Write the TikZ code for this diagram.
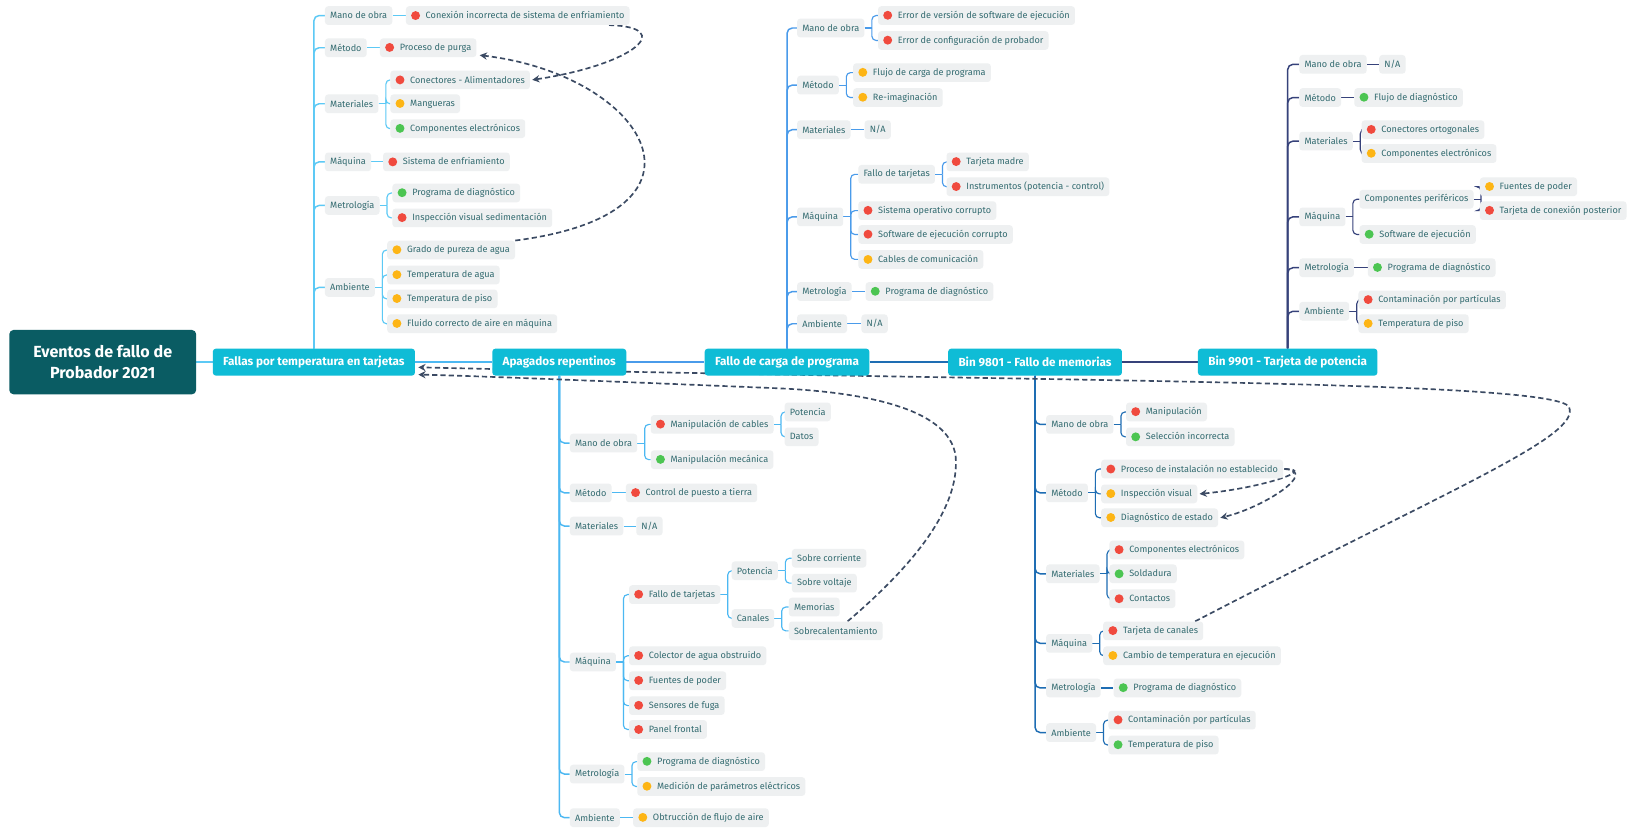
\documentclass[tikz,border=0pt]{standalone}
\usepackage{fontspec}
\setmainfont{Fira Sans}
\usetikzlibrary{calc,arrows.meta}

\definecolor{rootfill}{HTML}{0A5C63}
\definecolor{mainfill}{HTML}{0FBCD6}
\definecolor{boxfill}{HTML}{EEF0F1}
\definecolor{txt}{HTML}{336B70}
\definecolor{cA}{HTML}{5CC9F5}
\definecolor{cB}{HTML}{4CB8F2}
\definecolor{cC}{HTML}{4A9BEA}
\definecolor{cD}{HTML}{1E6DB3}
\definecolor{cE}{HTML}{36427A}
\definecolor{dashc}{HTML}{3B4A63}
\definecolor{dred}{HTML}{F04A3E}
\definecolor{dorange}{HTML}{FDB515}
\definecolor{dgreen}{HTML}{4CC552}

\pgfdeclarelayer{bg}
\pgfdeclarelayer{paper}
\pgfsetlayers{paper,bg,main}

% coloured status dot in front of a label
\newcommand\dt[1]{\tikz[baseline=-3pt]\fill[#1](0pt,0pt)circle(4.3pt);\hspace{5.5pt}}
% single child: straight link
\newcommand\lnk[3]{\draw[#1] (#2.east) -- (#3.west);}
% several children: short stub, then a rounded elbow per child
\newcommand\frk[3]{\draw[#1] (#2.east) -- ++(7pt,0pt);
  \draw[#1,rounded corners=4pt] ([xshift=7pt]#2.east) |- (#3.west);}
% trunk from a main topic to its categories
\newcommand\trk[3]{\draw[#1,line width=1.4pt,rounded corners=5pt] (#2) |- (#3.west);}

\begin{document}
\begin{tikzpicture}[x=1pt,y=-1pt,
  lbl/.style={fill=boxfill,rounded corners=3pt,inner xsep=5pt,inner ysep=0pt,
    minimum height=18pt,text=txt,font=\fontsize{8.8}{10}\selectfont,anchor=west},
  mainb/.style={fill=mainfill,rounded corners=3pt,text=white,inner xsep=10pt,
    minimum height=26pt,font=\fontsize{11.3}{13}\selectfont\bfseries},
  rootb/.style={fill=rootfill,rounded corners=4pt,text=white,align=center,
    minimum width=180pt,minimum height=62pt,font=\fontsize{15.5}{20}\selectfont\bfseries},
  lA/.style={draw=cA,line width=1.1pt},
  lB/.style={draw=cB,line width=1.1pt},
  lC/.style={draw=cC,line width=1.1pt},
  lD/.style={draw=cD,line width=1.1pt},
  lE/.style={draw=cE,line width=1.1pt},
  dep/.style={draw=dashc,line width=1.6pt,dash pattern=on 5pt off 3pt,
    -{Stealth[length=7pt,width=7pt]}}]

\begin{pgfonlayer}{paper}
\fill[white] (0,0) rectangle (1568,798);
\end{pgfonlayer}
\useasboundingbox (0,0) rectangle (1568,798);

% ---------- root and main topics ----------
\node[rootb] (root) at (99,349) {Eventos de fallo de\\Probador 2021};
\node[mainb] (m1) at (302.5,349) {Fallas por temperatura en tarjetas};
\node[mainb] (m2) at (539,349) {Apagados repentinos};
\node[mainb] (m3) at (758.5,349) {Fallo de carga de programa};
\node[mainb] (m4) at (997.5,349) {Bin 9801 - Fallo de memorias};
\node[mainb] (m5) at (1241,349) {Bin 9901 - Tarjeta de potencia};

% ---------- Fallas por temperatura en tarjetas ----------
\node[lbl] (aMO) at (313,15) {Mano de obra};
\node[lbl] (aME) at (313,46) {Método};
\node[lbl] (aMA) at (313,100) {Materiales};
\node[lbl] (aMQ) at (313,156) {Máquina};
\node[lbl] (aMT) at (313,198) {Metrología};
\node[lbl] (aAM) at (313,277) {Ambiente};
\node[lbl] (aMO1) at (391,15) {\dt{dred}Conexión incorrecta de sistema de enfriamiento};
\node[lbl] (aME1) at (366,46) {\dt{dred}Proceso de purga};
\node[lbl] (aMA1) at (376,77) {\dt{dred}Conectores - Alimentadores};
\node[lbl] (aMA2) at (376,100) {\dt{dorange}Mangueras};
\node[lbl] (aMA3) at (376,124) {\dt{dgreen}Componentes electrónicos};
\node[lbl] (aMQ1) at (369,156) {\dt{dred}Sistema de enfriamiento};
\node[lbl] (aMT1) at (378,186) {\dt{dgreen}Programa de diagnóstico};
\node[lbl] (aMT2) at (378,210) {\dt{dred}Inspección visual sedimentación};
\node[lbl] (aAM1) at (373,241) {\dt{dorange}Grado de pureza de agua};
\node[lbl] (aAM2) at (373,265) {\dt{dorange}Temperatura de agua};
\node[lbl] (aAM3) at (373,288) {\dt{dorange}Temperatura de piso};
\node[lbl] (aAM4) at (373,312) {\dt{dorange}Fluido correcto de aire en máquina};

% ---------- Apagados repentinos ----------
\node[lbl] (bMO) at (549,427) {Mano de obra};
\node[lbl] (bME) at (549,475) {Método};
\node[lbl] (bMA) at (549,507) {Materiales};
\node[lbl] (bMQ) at (549,638) {Máquina};
\node[lbl] (bMT) at (549,746) {Metrología};
\node[lbl] (bAM) at (549,788) {Ambiente};
\node[lbl] (bMO1) at (627,409) {\dt{dred}Manipulación de cables};
\node[lbl] (bMO2) at (627,443) {\dt{dgreen}Manipulación mecánica};
\node[lbl] (bMO11) at (756,397) {Potencia};
\node[lbl] (bMO12) at (756,421) {Datos};
\node[lbl] (bME1) at (603,475) {\dt{dred}Control de puesto a tierra};
\node[lbl] (bMA1) at (613,507) {N/A};
\node[lbl] (bMQ1) at (606,573) {\dt{dred}Fallo de tarjetas};
\node[lbl] (bMQ2) at (606,632) {\dt{dred}Colector de agua obstruido};
\node[lbl] (bMQ3) at (606,656) {\dt{dred}Fuentes de poder};
\node[lbl] (bMQ4) at (606,680) {\dt{dred}Sensores de fuga};
\node[lbl] (bMQ5) at (606,703) {\dt{dred}Panel frontal};
\node[lbl] (bP) at (705,550) {Potencia};
\node[lbl] (bC) at (705,596) {Canales};
\node[lbl] (bP1) at (763,538) {Sobre corriente};
\node[lbl] (bP2) at (763,562) {Sobre voltaje};
\node[lbl] (bC1) at (760,585) {Memorias};
\node[lbl] (bC2) at (760,608) {Sobrecalentamiento};
\node[lbl] (bMT1) at (614,734) {\dt{dgreen}Programa de diagnóstico};
\node[lbl] (bMT2) at (614,758) {\dt{dorange}Medición de parámetros eléctricos};
\node[lbl] (bAM1) at (610,788) {\dt{dorange}Obtrucción de flujo de aire};

% ---------- Fallo de carga de programa ----------
\node[lbl] (cMO) at (768,27) {Mano de obra};
\node[lbl] (cME) at (768,82) {Método};
\node[lbl] (cMA) at (768,125) {Materiales};
\node[lbl] (cMQ) at (768,209) {Máquina};
\node[lbl] (cMT) at (768,281) {Metrología};
\node[lbl] (cAM) at (768,312) {Ambiente};
\node[lbl] (cMO1) at (846,15) {\dt{dred}Error de versión de software de ejecución};
\node[lbl] (cMO2) at (846,39) {\dt{dred}Error de configuración de probador};
\node[lbl] (cME1) at (822,70) {\dt{dorange}Flujo de carga de programa};
\node[lbl] (cME2) at (822,94) {\dt{dorange}Re-imaginación};
\node[lbl] (cMA1) at (833,125) {N/A};
\node[lbl] (cMQ1) at (827,168) {Fallo de tarjetas};
\node[lbl] (cMQ11) at (912,156) {\dt{dred}Tarjeta madre};
\node[lbl] (cMQ12) at (912,180) {\dt{dred}Instrumentos (potencia - control)};
\node[lbl] (cMQ2) at (827,203) {\dt{dred}Sistema operativo corrupto};
\node[lbl] (cMQ3) at (827,226) {\dt{dred}Software de ejecución corrupto};
\node[lbl] (cMQ4) at (827,250) {\dt{dorange}Cables de comunicación};
\node[lbl] (cMT1) at (834,281) {\dt{dgreen}Programa de diagnóstico};
\node[lbl] (cAM1) at (830,312) {N/A};

% ---------- Bin 9801 - Fallo de memorias ----------
\node[lbl] (dMO) at (1008,409) {Mano de obra};
\node[lbl] (dME) at (1008,475) {Método};
\node[lbl] (dMA) at (1008,553) {Materiales};
\node[lbl] (dMQ) at (1008,620) {Máquina};
\node[lbl] (dMT) at (1008,663) {Metrología};
\node[lbl] (dAM) at (1008,706) {Ambiente};
\node[lbl] (dMO1) at (1085,397) {\dt{dred}Manipulación};
\node[lbl] (dMO2) at (1085,421) {\dt{dgreen}Selección incorrecta};
\node[lbl] (dME1) at (1061,452) {\dt{dred}Proceso de instalación no establecido};
\node[lbl] (dME2) at (1061,476) {\dt{dorange}Inspección visual};
\node[lbl] (dME3) at (1061,499) {\dt{dorange}Diagnóstico de estado};
\node[lbl] (dMA1) at (1069,530) {\dt{dred}Componentes electrónicos};
\node[lbl] (dMA2) at (1069,553) {\dt{dgreen}Soldadura};
\node[lbl] (dMA3) at (1069,577) {\dt{dred}Contactos};
\node[lbl] (dMQ1) at (1063,608) {\dt{dred}Tarjeta de canales};
\node[lbl] (dMQ2) at (1063,632) {\dt{dorange}Cambio de temperatura en ejecución};
\node[lbl] (dMT1) at (1073,663) {\dt{dgreen}Programa de diagnóstico};
\node[lbl] (dAM1) at (1068,694) {\dt{dred}Contaminación por partículas};
\node[lbl] (dAM2) at (1068,718) {\dt{dgreen}Temperatura de piso};

% ---------- Bin 9901 - Tarjeta de potencia ----------
\node[lbl] (eMO) at (1252,62) {Mano de obra};
\node[lbl] (eME) at (1252,94) {Método};
\node[lbl] (eMA) at (1252,136) {Materiales};
\node[lbl] (eMQ) at (1252,209) {Máquina};
\node[lbl] (eMT) at (1252,258) {Metrología};
\node[lbl] (eAM) at (1252,300) {Ambiente};
\node[lbl] (eMO1) at (1329,62) {N/A};
\node[lbl] (eME1) at (1305,94) {\dt{dgreen}Flujo de diagnóstico};
\node[lbl] (eMA1) at (1312,125) {\dt{dred}Conectores ortogonales};
\node[lbl] (eMA2) at (1312,148) {\dt{dorange}Componentes electrónicos};
\node[lbl] (eMQ1) at (1310,192) {Componentes periféricos};
\node[lbl] (eMQ2) at (1310,226) {\dt{dgreen}Software de ejecución};
\node[lbl] (eMQ11) at (1426,180) {\dt{dorange}Fuentes de poder};
\node[lbl] (eMQ12) at (1426,203) {\dt{dred}Tarjeta de conexión posterior};
\node[lbl] (eMT1) at (1318,258) {\dt{dgreen}Programa de diagnóstico};
\node[lbl] (eAM1) at (1309,289) {\dt{dred}Contaminación por partículas};
\node[lbl] (eAM2) at (1309,312) {\dt{dorange}Temperatura de piso};

\begin{pgfonlayer}{bg}
% main line
\draw[cA,line width=1.4pt] (root.east) -- (m1.west);
\draw[cB,line width=1.4pt] (m1.east) -- (m2.west);
\draw[cC,line width=1.4pt] (m2.east) -- (m3.west);
\draw[cD,line width=1.4pt] (m3.east) -- (m4.west);
\draw[cE,line width=1.4pt] (m4.east) -- (m5.west);

% trunks
\foreach \n in {aMO,aME,aMA,aMQ,aMT,aAM}{\trk{cA}{m1.north}{\n}}
\foreach \n in {bMO,bME,bMA,bMQ,bMT,bAM}{\trk{cB}{m2.south}{\n}}
\foreach \n in {cMO,cME,cMA,cMQ,cMT,cAM}{\trk{cC}{m3.north}{\n}}
\foreach \n in {dMO,dME,dMA,dMQ,dMT,dAM}{\trk{cD}{m4.south}{\n}}
\foreach \n in {eMO,eME,eMA,eMQ,eMT,eAM}{\trk{cE}{m5.north}{\n}}

% branch A
\lnk{lA}{aMO}{aMO1}
\lnk{lA}{aME}{aME1}
\frk{lA}{aMA}{aMA1}\frk{lA}{aMA}{aMA2}\frk{lA}{aMA}{aMA3}
\lnk{lA}{aMQ}{aMQ1}
\frk{lA}{aMT}{aMT1}\frk{lA}{aMT}{aMT2}
\frk{lA}{aAM}{aAM1}\frk{lA}{aAM}{aAM2}\frk{lA}{aAM}{aAM3}\frk{lA}{aAM}{aAM4}

% branch B
\frk{lB}{bMO}{bMO1}\frk{lB}{bMO}{bMO2}
\frk{lB}{bMO1}{bMO11}\frk{lB}{bMO1}{bMO12}
\lnk{lB}{bME}{bME1}
\lnk{lB}{bMA}{bMA1}
\frk{lB}{bMQ}{bMQ1}\frk{lB}{bMQ}{bMQ2}\frk{lB}{bMQ}{bMQ3}\frk{lB}{bMQ}{bMQ4}\frk{lB}{bMQ}{bMQ5}
\frk{lB}{bMQ1}{bP}\frk{lB}{bMQ1}{bC}
\frk{lB}{bP}{bP1}\frk{lB}{bP}{bP2}
\frk{lB}{bC}{bC1}\frk{lB}{bC}{bC2}
\frk{lB}{bMT}{bMT1}\frk{lB}{bMT}{bMT2}
\lnk{lB}{bAM}{bAM1}

% branch C
\frk{lC}{cMO}{cMO1}\frk{lC}{cMO}{cMO2}
\frk{lC}{cME}{cME1}\frk{lC}{cME}{cME2}
\lnk{lC}{cMA}{cMA1}
\frk{lC}{cMQ}{cMQ1}\frk{lC}{cMQ}{cMQ2}\frk{lC}{cMQ}{cMQ3}\frk{lC}{cMQ}{cMQ4}
\frk{lC}{cMQ1}{cMQ11}\frk{lC}{cMQ1}{cMQ12}
\lnk{lC}{cMT}{cMT1}
\lnk{lC}{cAM}{cAM1}

% branch D
\frk{lD}{dMO}{dMO1}\frk{lD}{dMO}{dMO2}
\frk{lD}{dME}{dME1}\frk{lD}{dME}{dME2}\frk{lD}{dME}{dME3}
\frk{lD}{dMA}{dMA1}\frk{lD}{dMA}{dMA2}\frk{lD}{dMA}{dMA3}
\frk{lD}{dMQ}{dMQ1}\frk{lD}{dMQ}{dMQ2}
\lnk{lD}{dMT}{dMT1}
\frk{lD}{dAM}{dAM1}\frk{lD}{dAM}{dAM2}

% branch E
\lnk{lE}{eMO}{eMO1}
\lnk{lE}{eME}{eME1}
\frk{lE}{eMA}{eMA1}\frk{lE}{eMA}{eMA2}
\frk{lE}{eMQ}{eMQ1}\frk{lE}{eMQ}{eMQ2}
\frk{lE}{eMQ1}{eMQ11}\frk{lE}{eMQ1}{eMQ12}
\lnk{lE}{eMT}{eMT1}
\frk{lE}{eAM}{eAM1}\frk{lE}{eAM}{eAM2}

% cross relations
\draw[dep] ($(aMO1.south east)+(-20,0)$) .. controls (652,26) and (612,62) .. ([xshift=2pt]aMA1.east);
\draw[dep] (aAM1.north east) .. controls (705,205) and (622,72) .. ($(aME1.south east)+(3,-2)$);
\draw[dep] ($(bC2.north east)+(-34,0)$) .. controls (880,545) and (925,490) .. (921,440)
  .. controls (915,390) and (820,377) .. (745,374)
  .. controls (600,368) and (450,362) .. ([xshift=3pt,yshift=-12pt]m1.east);
\draw[dep] ($(dMQ1.north east)+(-8,0)$) .. controls (1400,470) and (1525,420) .. (1512,392)
  .. controls (1495,366) and (1000,368) .. ([xshift=3pt,yshift=-5pt]m1.east);
\draw[dep] ([xshift=1pt]dME1.east) .. controls +(32,0) and +(62,-6) .. ([xshift=2pt]dME2.east);
\draw[dep] ([xshift=1pt]dME1.east) .. controls +(34,2) and +(42,-10) .. ([xshift=2pt]dME3.east);
\end{pgfonlayer}
\end{tikzpicture}
\end{document}
